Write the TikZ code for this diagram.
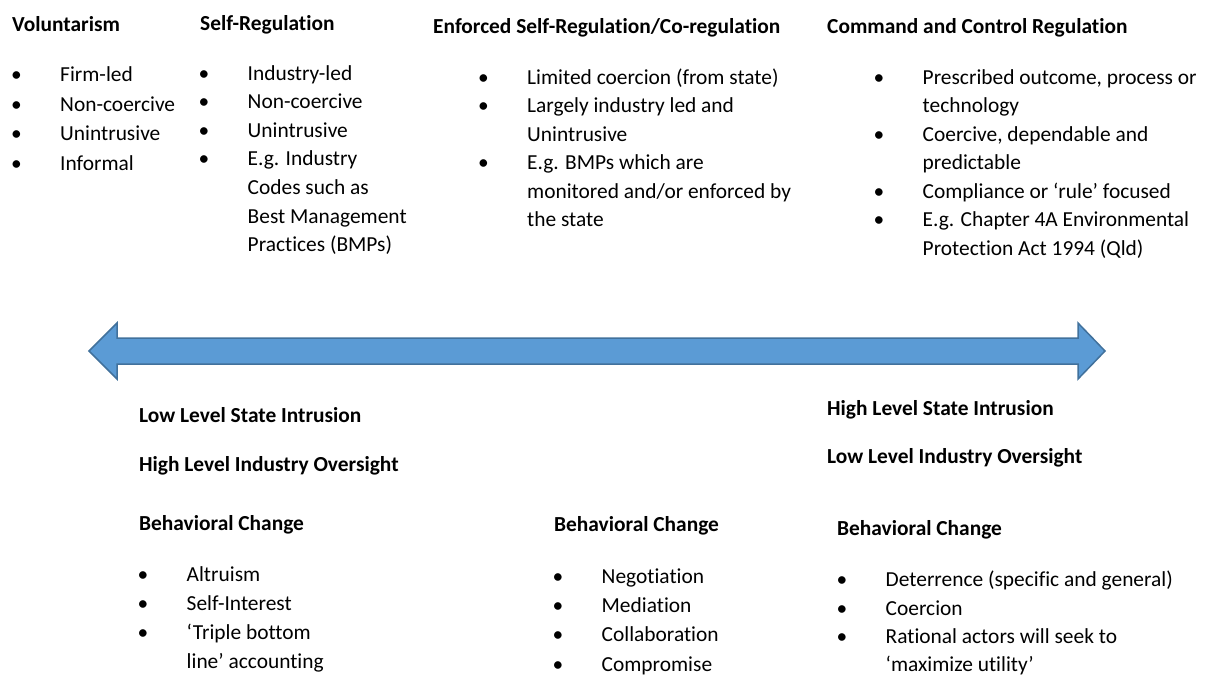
\documentclass[tikz,border=0pt]{standalone}
\usepackage{fontspec}
\setmainfont{Carlito}[Ligatures=NoCommon]
\definecolor{arrowfill}{HTML}{5B9BD5}
\definecolor{arrowline}{HTML}{41719C}
\newcommand{\bl}[1]{\makebox[49pt][l]{•}#1}
\newcommand{\cn}[1]{\hspace*{49pt}#1}
\begin{document}
\begin{tikzpicture}[x=1pt,y=-1pt,
  head/.style={anchor=base west,inner sep=0pt,font=\fontsize{21.4}{28.8}\selectfont\bfseries},
  lst/.style={anchor=base west,inner sep=0pt,align=left,font=\fontsize{21.4}{#1}\selectfont},
  lst/.default=28.8,
  bigarrow/.style={fill=arrowfill,draw=arrowline,line width=1.5pt,line join=miter}]
\useasboundingbox (0,0) rectangle (1207,678);
% top headings
\node[head] (h1) at (12,31.7) {Voluntarism};
\node[head] (h2) at (200,30) {Self-Regulation};
\node[head] (h3) at (433,33) {Enforced Self-Regulation/Co-regulation};
\node[head] (h4) at (827,33) {Command and Control Regulation};
% top lists (anchored at the baseline of their last line)
\node[lst=29.4] (l1) at (11,170) {\bl{Firm-led}\\\bl{Non-coercive}\\\bl{Unintrusive}\\\bl{Informal}};
\node[lst=28.6] (l2) at (198.5,251.7) {\bl{Industry-led}\\\bl{Non-coercive}\\\bl{Unintrusive}\\\bl{E.g. Industry}\\\cn{Codes such as}\\\cn{Best Management}\\\cn{Practices (BMPs)}};
\node[lst=28.5] (l3) at (478,226.7) {\bl{Limited coercion (from state)}\\\bl{Largely industry led and}\\\cn{Unintrusive}\\\bl{E.g. BMPs which are}\\\cn{monitored and/or enforced by}\\\cn{the state}};
\node[lst=28.45] (l4) at (873.5,255) {\bl{Prescribed outcome, process or}\\\cn{technology}\\\bl{Coercive, dependable and}\\\cn{predictable}\\\bl{Compliance or ‘rule’ focused}\\\bl{E.g. Chapter 4A Environmental}\\\cn{Protection Act 1994 (Qld)}};
% double arrow
\draw[bigarrow] (89,351) -- (117,323) -- (117,338) -- (1078,338) -- (1078,323) -- (1105,351) -- (1078,379) -- (1078,364) -- (117,364) -- (117,379) -- cycle;
% bottom left
\node[head] (b1) at (139,422.7) {Low Level State Intrusion};
\node[head] (b2) at (139,471.7) {High Level Industry Oversight};
\node[head] (b3) at (139,530.7) {Behavioral Change};
\node[lst=29] (bl1) at (137.5,668) {\bl{Altruism}\\\bl{Self-Interest}\\\bl{‘Triple bottom}\\\cn{line’ accounting}};
% bottom middle
\node[head] (m1) at (554,531.7) {Behavioral Change};
\node[lst=29.2] (ml1) at (552.5,671) {\bl{Negotiation}\\\bl{Mediation}\\\bl{Collaboration}\\\bl{Compromise}};
% bottom right
\node[head] (r1) at (827,415) {High Level State Intrusion};
\node[head] (r2) at (827,463.3) {Low Level Industry Oversight};
\node[head] (r3) at (837,535) {Behavioral Change};
\node[lst=28.3] (rl1) at (836.5,671.7) {\bl{Deterrence (specific and general)}\\\bl{Coercion}\\\bl{Rational actors will seek to}\\\cn{‘maximize utility’}};
\end{tikzpicture}
\end{document}
